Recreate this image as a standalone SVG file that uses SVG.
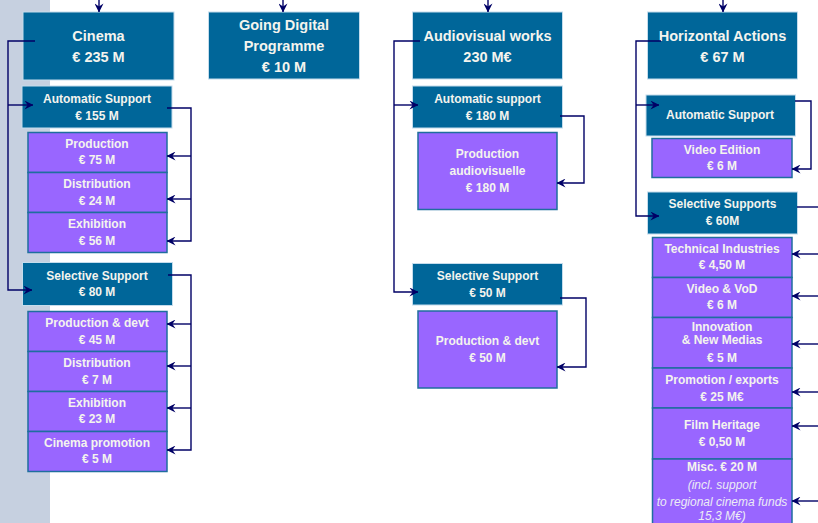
<svg xmlns="http://www.w3.org/2000/svg" width="818" height="523" viewBox="0 0 818 523">
<defs>
<marker id="ah" viewBox="0 0 10 10" refX="9.5" refY="5" markerWidth="9" markerHeight="9" orient="auto" markerUnits="userSpaceOnUse">
<path d="M0,0 L10,5 L0,10 L3.5,5 z" fill="#000066"/>
</marker>
<style>
.dk{fill:#006699;stroke:#c4dcec;stroke-width:1}
.pu{fill:#9966ff;stroke:#1f6e9e;stroke-width:1.5}
text{font-family:"Liberation Sans",Arial,sans-serif;font-weight:bold;fill:#f4f4ee;text-anchor:middle}
.t1{font-size:14.5px}
.t2{font-size:12px}
.it{font-size:12px;font-style:italic;font-weight:normal;fill:#ecebf5}
.cn path{fill:none;stroke:#000066;stroke-width:1.4;marker-end:url(#ah)}
.cn path.nm{marker-end:none}
</style>
</defs>
<rect x="0" y="0" width="50" height="523" fill="#c6d0e0"/>

<g id="cinema"><rect class="dk" x="23" y="12" width="151" height="68"/><text class="t1" x="98.5" y="41">Cinema</text><text class="t1" x="98.5" y="62">€ 235 M</text></g>
<g id="cin-auto"><rect class="dk" x="22" y="86" width="150" height="42"/><text class="t2" x="97" y="102.5">Automatic Support</text><text class="t2" x="97" y="119.5">€ 155 M</text></g>
<g id="cin-auto-prod"><rect class="pu" x="28" y="132.5" width="139" height="40"/><text class="t2" x="97" y="147.5">Production</text><text class="t2" x="97" y="163.5">€ 75 M</text></g>
<g id="cin-auto-dist"><rect class="pu" x="28" y="172.5" width="139" height="40"/><text class="t2" x="97" y="188">Distribution</text><text class="t2" x="97" y="204.5">€ 24 M</text></g>
<g id="cin-auto-exh"><rect class="pu" x="28" y="212.5" width="139" height="40"/><text class="t2" x="97" y="228">Exhibition</text><text class="t2" x="97" y="244.5">€ 56 M</text></g>
<g id="cin-sel"><rect class="dk" x="22.5" y="262.5" width="150" height="43"/><text class="t2" x="97" y="279.5">Selective Support</text><text class="t2" x="97" y="296">€ 80 M</text></g>
<g id="cin-sel-prod"><rect class="pu" x="28" y="311.5" width="139" height="40"/><text class="t2" x="97" y="326.5">Production &amp; devt</text><text class="t2" x="97" y="343.5">€ 45 M</text></g>
<g id="cin-sel-dist"><rect class="pu" x="28" y="351.5" width="139" height="40"/><text class="t2" x="97" y="366.5">Distribution</text><text class="t2" x="97" y="383.5">€ 7 M</text></g>
<g id="cin-sel-exh"><rect class="pu" x="28" y="391.5" width="139" height="40"/><text class="t2" x="97" y="406.5">Exhibition</text><text class="t2" x="97" y="422.5">€ 23 M</text></g>
<g id="cin-sel-promo"><rect class="pu" x="28" y="431.5" width="139" height="40"/><text class="t2" x="97" y="446.5">Cinema promotion</text><text class="t2" x="97" y="462.5">€ 5 M</text></g>

<g id="digital"><rect class="dk" x="208.5" y="12" width="151" height="67"/><text class="t1" x="284" y="30">Going Digital</text><text class="t1" x="284" y="51">Programme</text><text class="t1" x="284" y="72">€ 10 M</text></g>

<g id="av"><rect class="dk" x="412.5" y="12" width="150" height="67"/><text class="t1" x="487.5" y="41">Audiovisual works</text><text class="t1" x="487.5" y="62">230 M€</text></g>
<g id="av-auto"><rect class="dk" x="412.5" y="86" width="150" height="42"/><text class="t2" x="487.5" y="102.5">Automatic support</text><text class="t2" x="487.5" y="119.5">€ 180 M</text></g>
<g id="av-auto-prod"><rect class="pu" x="418" y="132.5" width="139" height="77"/><text class="t2" x="487.5" y="157.5">Production</text><text class="t2" x="487.5" y="174.5">audiovisuelle</text><text class="t2" x="487.5" y="191.5">€ 180 M</text></g>
<g id="av-sel"><rect class="dk" x="412.5" y="263.5" width="150" height="41.5"/><text class="t2" x="487.5" y="279.5">Selective Support</text><text class="t2" x="487.5" y="296.5">€ 50 M</text></g>
<g id="av-sel-prod"><rect class="pu" x="418" y="311" width="139" height="77"/><text class="t2" x="487.5" y="344.5">Production &amp; devt</text><text class="t2" x="487.5" y="361.5">€ 50 M</text></g>

<g id="ha"><rect class="dk" x="647.5" y="12" width="150" height="67"/><text class="t1" x="722.5" y="41">Horizontal Actions</text><text class="t1" x="722.5" y="62">€ 67 M</text></g>
<g id="ha-auto"><rect class="dk" x="646" y="95" width="149.5" height="41"/><text class="t2" x="720" y="118.5">Automatic Support</text></g>
<g id="ha-auto-video"><rect class="pu" x="652" y="138.5" width="140" height="39"/><text class="t2" x="722" y="153.5">Video Edition</text><text class="t2" x="722" y="169.5">€ 6 M</text></g>
<g id="ha-sel"><rect class="dk" x="647.5" y="192" width="150" height="42"/><text class="t2" x="722.5" y="207.5">Selective Supports</text><text class="t2" x="722.5" y="224.5">€ 60M</text></g>
<g id="ha-tech"><rect class="pu" x="652.5" y="237.5" width="139.5" height="40"/><text class="t2" x="722" y="252.5">Technical Industries</text><text class="t2" x="722" y="269">€ 4,50 M</text></g>
<g id="ha-vod"><rect class="pu" x="652.5" y="277.5" width="139.5" height="40"/><text class="t2" x="722" y="292.5">Video &amp; VoD</text><text class="t2" x="722" y="309">€ 6 M</text></g>
<g id="ha-innov"><rect class="pu" x="652.5" y="317.5" width="139.5" height="50.5"/><text class="t2" x="722" y="330.5">Innovation</text><text class="t2" x="722" y="344">&amp; New Medias</text><text class="t2" x="722" y="362">€ 5 M</text></g>
<g id="ha-promo"><rect class="pu" x="652.5" y="368" width="139.5" height="40"/><text class="t2" x="722" y="383.5">Promotion / exports</text><text class="t2" x="722" y="400.5">€ 25 M€</text></g>
<g id="ha-heritage"><rect class="pu" x="652.5" y="408" width="139.5" height="51"/><text class="t2" x="722" y="428.5">Film Heritage</text><text class="t2" x="722" y="445.5">€ 0,50 M</text></g>
<g id="ha-misc"><rect class="pu" x="652.5" y="459" width="139.5" height="70"/><text class="t2" x="722" y="470.5">Misc. € 20 M</text><text class="it" x="722" y="488.5">(incl. support</text><text class="it" x="722" y="505.5">to regional cinema funds</text><text class="it" x="722" y="520">15,3 M€)</text></g>

<g id="connectors" class="cn">
<path d="M99,0 V12"/>
<path d="M283,0 V12"/>
<path d="M488,0 V12"/>
<path d="M723,0 V12"/>
<path d="M35,41 H8 V290 H32"/>
<path d="M8,105 H33"/>
<path d="M167,108 H191 V241 H167"/>
<path d="M191,156 H167"/>
<path d="M191,199 H167"/>
<path d="M168,275 H191 V450 H167"/>
<path d="M191,324 H167"/>
<path d="M191,366 H167"/>
<path d="M191,408 H167"/>
<path d="M420,41 H394 V292 H418"/>
<path d="M394,105 H418"/>
<path d="M560,116 H584 V183 H557"/>
<path d="M560,298 H586 V367 H557"/>
<path d="M661,41 H636 V216 H659"/>
<path d="M636,105 H659"/>
<path d="M795,101 H811 V169 H792"/>
<path class="nm" d="M797,207 H818"/>
<path d="M818,254 H792"/>
<path d="M818,296 H792"/>
<path d="M818,344 H792"/>
<path d="M818,392 H792"/>
<path d="M818,426 H792"/>
<path d="M818,501 H792"/>
</g>
</svg>
